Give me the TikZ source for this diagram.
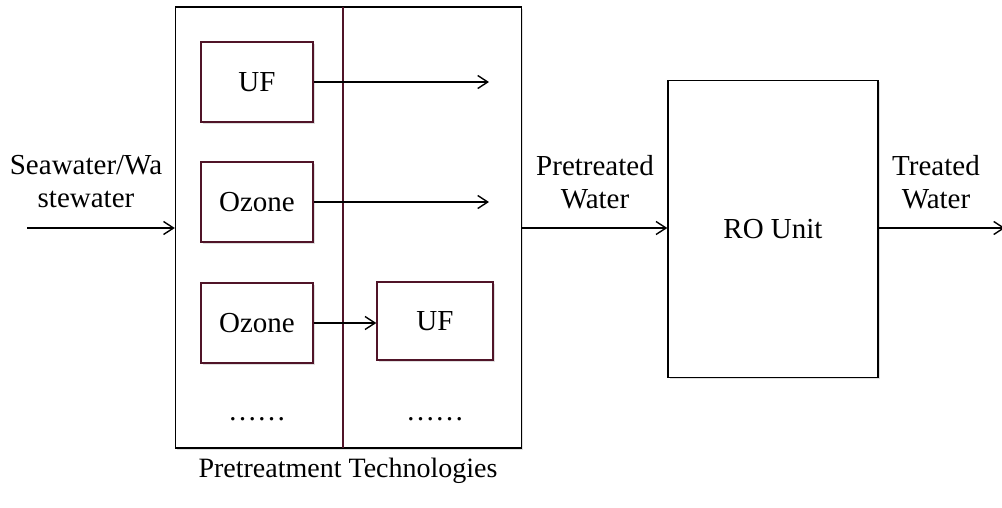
\documentclass[tikz,border=0pt]{standalone}
\usepackage{fontspec}
\setmainfont{Liberation Serif}
\usetikzlibrary{arrows.meta,shadows}
\definecolor{maroon}{RGB}{80,20,40}
\tikzset{
  x=1pt, y=-1pt,
  txt/.style={font=\fontsize{29}{33}\selectfont, align=center, inner sep=0pt},
  bigbox/.style={draw=black, line width=1.4pt, fill=white, inner sep=0pt,
    drop shadow={shadow xshift=1.5pt, shadow yshift=-1.5pt, opacity=0.25}},
  unitbox/.style={draw=maroon, line width=1.4pt, fill=white, inner sep=0pt,
    minimum width=112pt, minimum height=80pt, font=\fontsize{29}{33}\selectfont,
    drop shadow={shadow xshift=1.5pt, shadow yshift=-1.5pt, opacity=0.25}},
  flow/.style={line width=1.4pt, -{Straight Barb[length=10pt,width=13pt,line width=1.4pt]}}
}
\begin{document}
\begin{tikzpicture}
\useasboundingbox (0,0) rectangle (1002,507);
% pretreatment enclosure and RO unit
\node[bigbox, minimum width=346pt, minimum height=441pt] (pre) at (348.5,227.5) {};
\node[bigbox, minimum width=210pt, minimum height=297pt, txt] (ro) at (773,229) {RO Unit};
% divider between the two treatment stages
\coordinate (dtop) at (343,7);
\coordinate (dbot) at (343,448);
\draw[maroon, line width=1.4pt] (dtop) -- (dbot);
% first-stage units
\node[unitbox] (uf1) at (257,82) {UF};
\node[unitbox] (oz1) at (257,202) {Ozone};
\node[unitbox] (oz2) at (257,323) {Ozone};
% second-stage unit
\node[unitbox, minimum width=116pt, minimum height=78pt] (uf2) at (435,321) {UF};
% free ends of the pass-through arrows
\coordinate (e1) at (489,82);
\coordinate (e2) at (489,202);
\draw[flow] (uf1.east) -- (e1);
\draw[flow] (oz1.east) -- (e2);
\draw[flow] (oz2.east) -- (uf2.west |- oz2.east);
% ellipses for further combinations
\node[txt] (d1) at (257,419) {……};
\node[txt] (d2) at (435,419) {……};
% main stream
\coordinate (in) at (27,228);
\coordinate (out) at (1005,228);
\draw[flow] (in) -- (pre.west |- in);
\draw[flow] (pre.east |- in) -- (ro.west |- in);
\draw[flow] (ro.east |- in) -- (out);
% stream labels
\node[txt] (lin) at (86,182) {Seawater/Wa\\stewater};
\node[txt] (lpre) at (595,182) {Pretreated\\Water};
\node[txt] (lout) at (936,182) {Treated\\Water};
\node[txt, font=\fontsize{28}{33}\selectfont] (lcap) at (348,471) {Pretreatment Technologies};
\end{tikzpicture}
\end{document}
